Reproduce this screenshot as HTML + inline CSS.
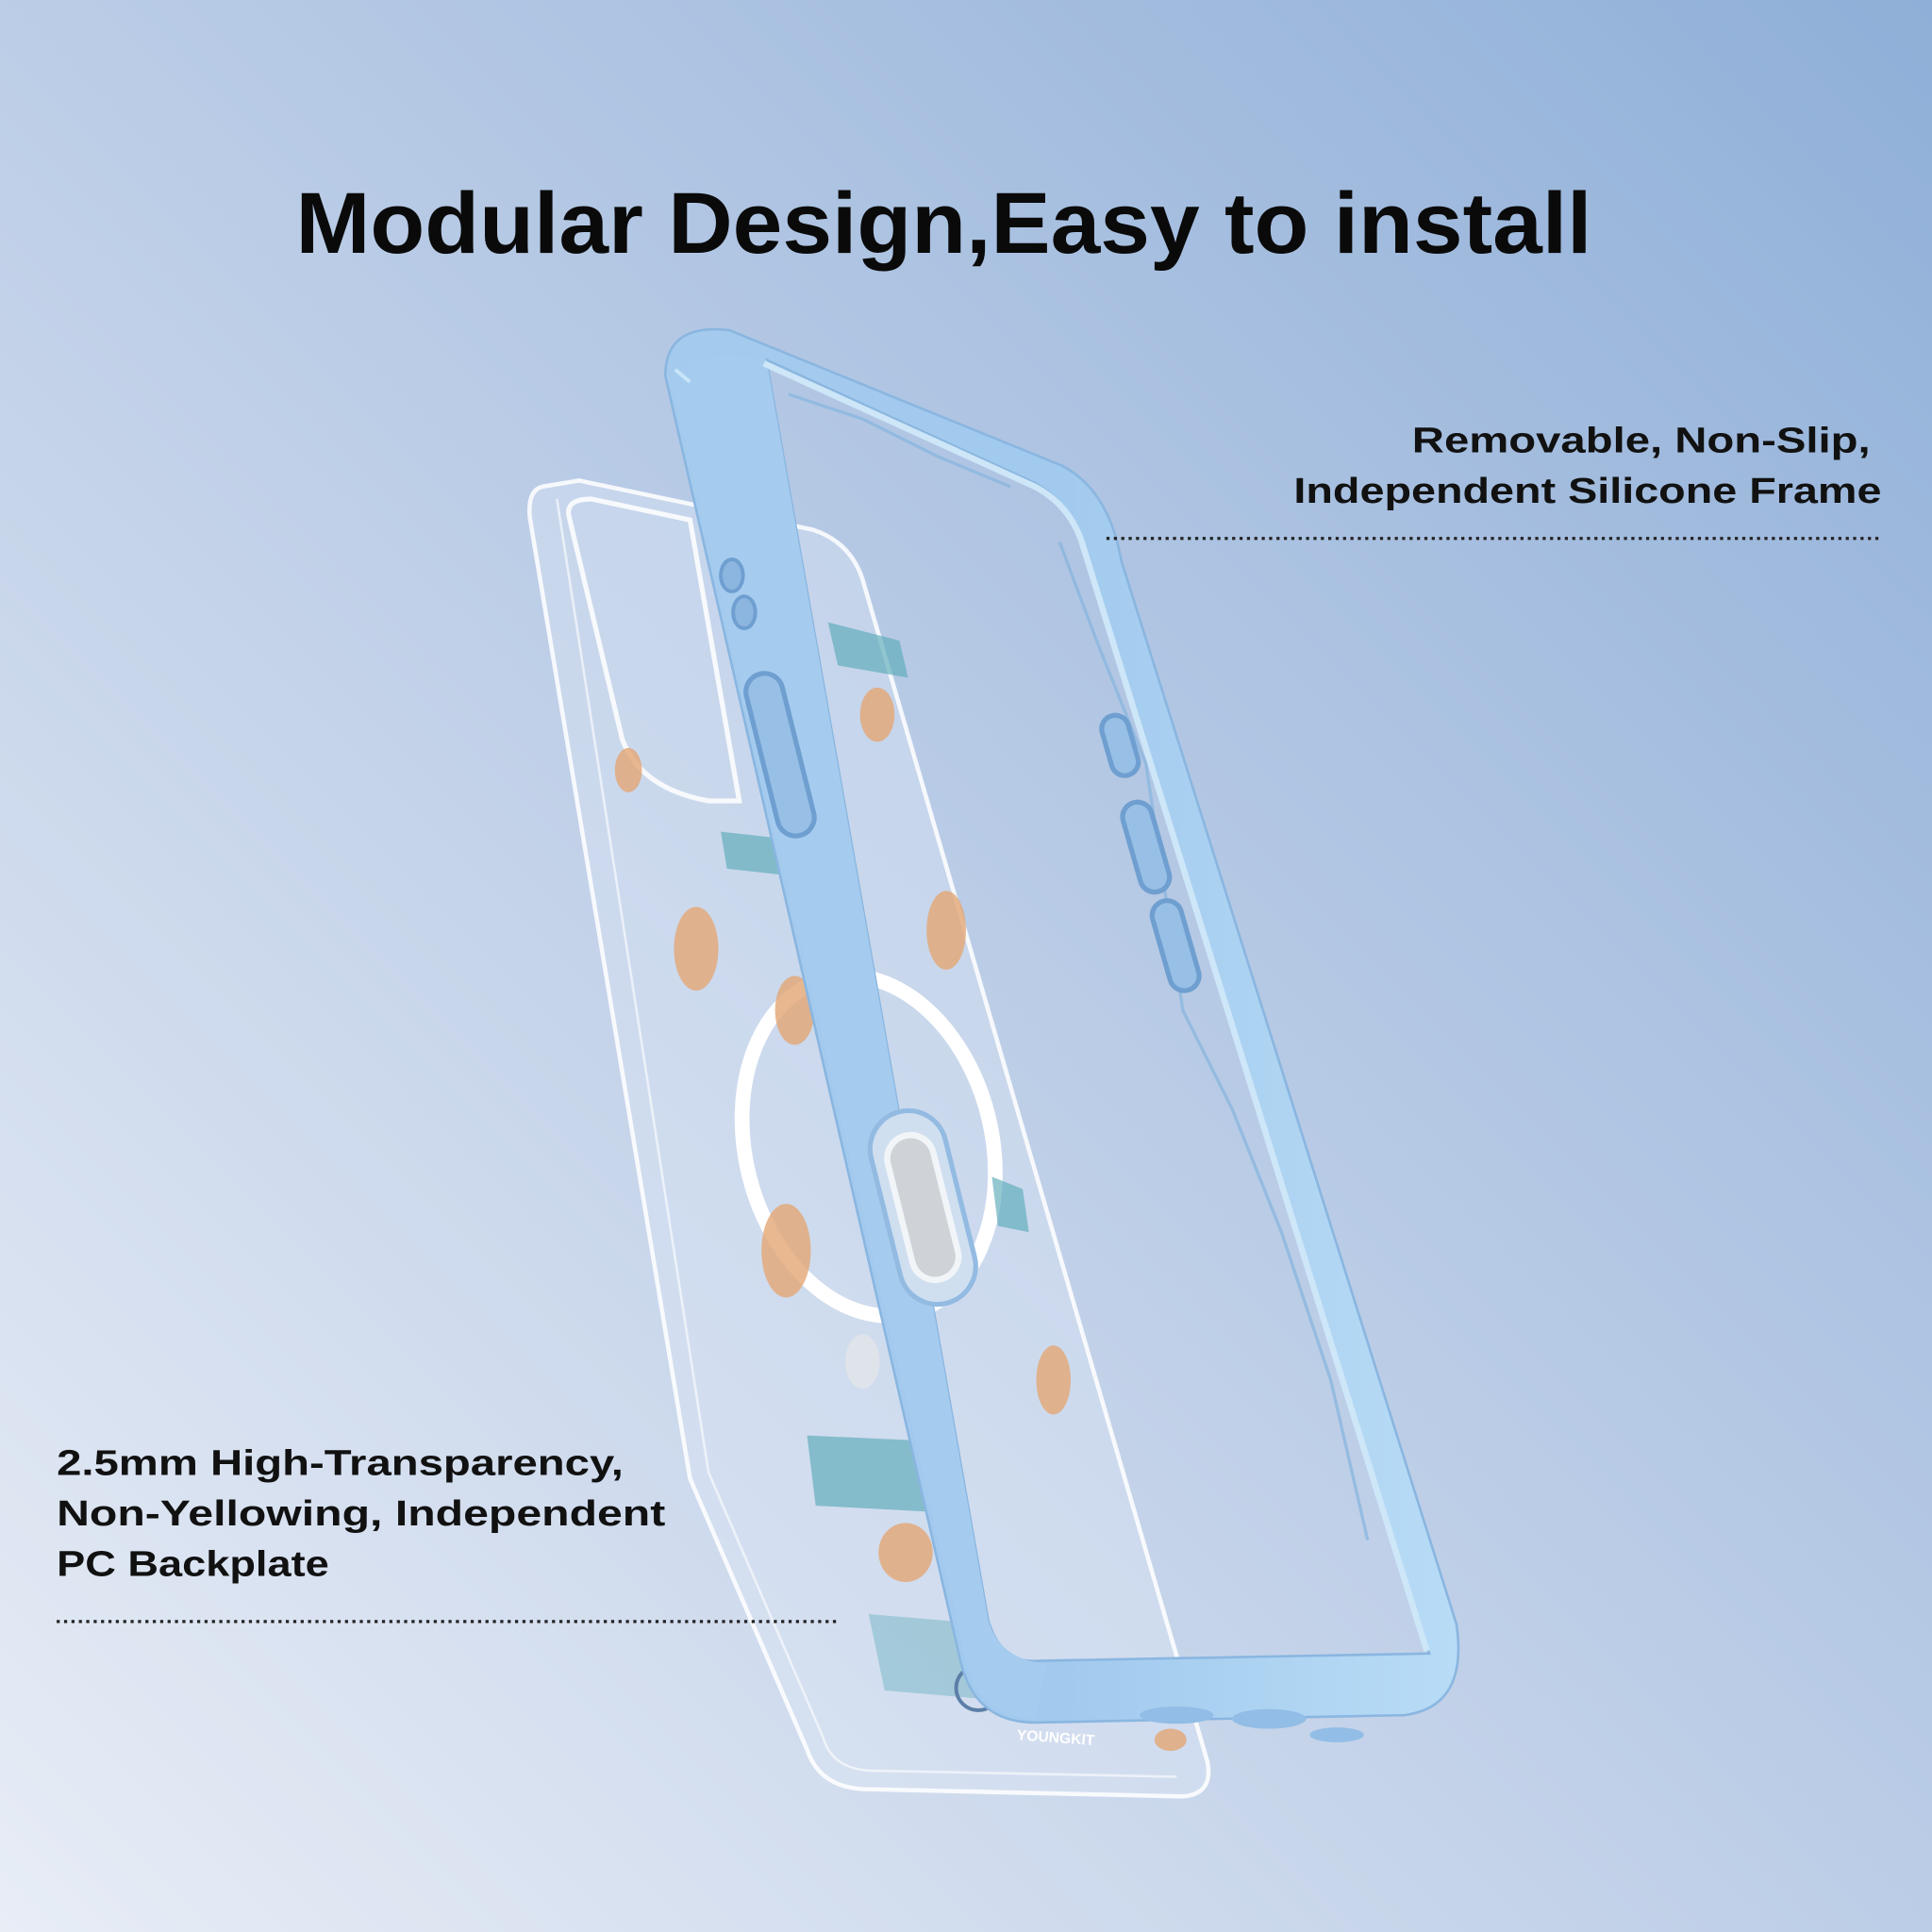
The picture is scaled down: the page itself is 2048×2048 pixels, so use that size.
<!DOCTYPE html>
<html><head><meta charset="utf-8"><style>
html,body{margin:0;padding:0;width:2048px;height:2048px;overflow:hidden}
svg{display:block}
</style></head><body>
<svg width="2048" height="2048" viewBox="0 0 1568 1568" xmlns="http://www.w3.org/2000/svg">
<defs>
<linearGradient id="bg" x1="0" y1="1" x2="1" y2="0">
<stop offset="0" stop-color="#e8edf6"/>
<stop offset="0.45" stop-color="#c0d0e8"/>
<stop offset="1" stop-color="#8fafd8"/>
</linearGradient>
<linearGradient id="fr" x1="0" y1="0" x2="1" y2="0">
<stop offset="0" stop-color="#a4cbee"/>
<stop offset="0.5" stop-color="#a2caee"/>
<stop offset="1" stop-color="#b8dcf6"/>
</linearGradient>
</defs>
<rect width="1568" height="1568" fill="url(#bg)"/>

<!-- clear case -->
<path d="M440,395 Q428,398 430,420 L560,1200 L655,1420 Q665,1450 700,1452 L960,1458 Q985,1456 980,1430 L700,470 Q690,440 660,430 L470,390 Z" fill="#dde7f4" fill-opacity="0.4" stroke="#ffffff" stroke-width="3.5" stroke-opacity="0.85"/>
<path d="M452,405 L575,1195 L668,1410 Q675,1435 705,1437 L955,1442" fill="none" stroke="#ffffff" stroke-width="2" stroke-opacity="0.6"/>
<!-- camera cutout -->
<path d="M462,420 Q458,405 480,405 L560,422 L600,650 L575,650 Q520,640 505,600 Z" fill="none" stroke="#ffffff" stroke-width="4" stroke-opacity="0.85"/>
<!-- magsafe ring -->
<ellipse cx="705" cy="930" rx="100" ry="140" fill="none" stroke="#ffffff" stroke-width="12" transform="rotate(-14 705 930)"/>
<!-- print decorations -->
<g fill="#e3a674" opacity="0.8">
<ellipse cx="565" cy="770" rx="18" ry="34"/>
<ellipse cx="638" cy="1015" rx="20" ry="38"/>
<ellipse cx="768" cy="755" rx="16" ry="32"/>
<ellipse cx="735" cy="1260" rx="22" ry="24"/>
<ellipse cx="855" cy="1120" rx="14" ry="28"/>
<ellipse cx="712" cy="580" rx="14" ry="22"/>
<ellipse cx="645" cy="820" rx="16" ry="28"/>
<ellipse cx="510" cy="625" rx="11" ry="18"/>
<ellipse cx="950" cy="1412" rx="13" ry="9"/>
</g>
<g fill="#5aaab8" opacity="0.65">
<path d="M655,1165 L765,1170 L775,1228 L662,1222 Z"/>
<path d="M672,505 L730,520 L737,550 L680,540 Z"/>
<path d="M585,675 L630,680 L635,710 L590,705 Z"/>
<path d="M805,955 L830,965 L835,1000 L810,995 Z"/>
<path d="M705,1310 L800,1318 L812,1380 L718,1372 Z" opacity="0.6"/>
</g>
<ellipse cx="700" cy="1105" rx="14" ry="22" fill="#dfe3ea"/>
<circle cx="794" cy="1370" r="18" fill="none" stroke="#5b7fa8" stroke-width="3"/>
<text x="825" y="1412" font-family="Liberation Sans, sans-serif" font-size="12" font-weight="bold" fill="#ffffff" transform="rotate(4 825 1412)">YOUNGKIT</text>

<!-- silicone frame -->
<path fill-rule="evenodd" fill="url(#fr)" stroke="#8ab6e0" stroke-width="2"
d="M540,305 Q540,262 592,268 L862,378 Q900,398 910,455 L1182,1318 Q1192,1385 1140,1392 L840,1398 Q792,1398 780,1350 Z
M622,292 L840,392 Q868,408 878,440 L1160,1342 L838,1348 Q812,1348 802,1315 Z"/>
<path d="M545,310 L785,1352 Q795,1392 840,1395 L850,1350 Q812,1348 802,1315 L622,292 Q560,280 545,310 Z" fill="#a5ccef"/>
<path d="M548,300 L560,310" stroke="#c8e4f8" stroke-width="3"/>
<path d="M620,295 L840,395 Q868,410 878,440 L1158,1340" fill="none" stroke="#cde6f8" stroke-width="5"/>
<g fill="none" stroke="#8bb6de" stroke-width="2.5" opacity="0.8">
<path d="M640,320 L700,340 L760,370 L820,395"/>
<path d="M860,440 L890,520 L930,620 L960,820 L1000,900 L1040,1000 L1080,1120 L1110,1250"/>
</g>
<ellipse cx="594" cy="467" rx="9" ry="13" fill="#8cb6df" stroke="#6f9fd0" stroke-width="3"/>
<ellipse cx="604" cy="497" rx="9" ry="13" fill="#8cb6df" stroke="#6f9fd0" stroke-width="3"/>
<rect x="618" y="545" width="30" height="135" rx="15" fill="#98c0e6" stroke="#6f9fd0" stroke-width="4" transform="rotate(-14 633 612)"/>
<rect x="898" y="580" width="22" height="50" rx="11" fill="#98c0e6" stroke="#6f9fd0" stroke-width="4" transform="rotate(-16 909 605)"/>
<rect x="918" y="650" width="24" height="75" rx="12" fill="#98c0e6" stroke="#6f9fd0" stroke-width="4" transform="rotate(-16 930 687)"/>
<rect x="942" y="730" width="24" height="75" rx="12" fill="#98c0e6" stroke="#6f9fd0" stroke-width="4" transform="rotate(-16 954 767)"/>
<rect x="718" y="900" width="62" height="160" rx="31" fill="#cfdff0" stroke="#93bbe2" stroke-width="4" transform="rotate(-14 749 980)"/>
<rect x="730" y="920" width="38" height="120" rx="19" fill="#cfd3d8" stroke="#f2f5f8" stroke-width="5" transform="rotate(-14 749 980)"/>
<g fill="#92bde6">
<ellipse cx="955" cy="1392" rx="30" ry="7"/>
<ellipse cx="1030" cy="1395" rx="30" ry="8"/>
<ellipse cx="1085" cy="1408" rx="22" ry="6"/>
</g>

<text x="240" y="205" textLength="1052" lengthAdjust="spacingAndGlyphs" font-family="Liberation Sans, sans-serif" font-weight="bold" font-size="70" fill="#0a0a0a">Modular Design,Easy to install</text>
<g font-family="Liberation Sans, sans-serif" font-weight="bold" font-size="29" fill="#111">
<text x="1518" y="367" text-anchor="end" textLength="372" lengthAdjust="spacingAndGlyphs">Removable, Non-Slip,</text>
<text x="1527" y="408" text-anchor="end" textLength="477" lengthAdjust="spacingAndGlyphs">Independent Silicone Frame</text>
<text x="46" y="1197" textLength="460" lengthAdjust="spacingAndGlyphs">2.5mm High-Transparency,</text>
<text x="46" y="1238" textLength="494" lengthAdjust="spacingAndGlyphs">Non-Yellowing, Independent</text>
<text x="46" y="1279" textLength="221" lengthAdjust="spacingAndGlyphs">PC Backplate</text>
</g>
<line x1="898" y1="437" x2="1528" y2="437" stroke="#222" stroke-width="2.5" stroke-dasharray="2.5 3.5"/>
<line x1="46" y1="1316" x2="680" y2="1316" stroke="#222" stroke-width="2.5" stroke-dasharray="2.5 3.5"/>
</svg>
</body></html>
